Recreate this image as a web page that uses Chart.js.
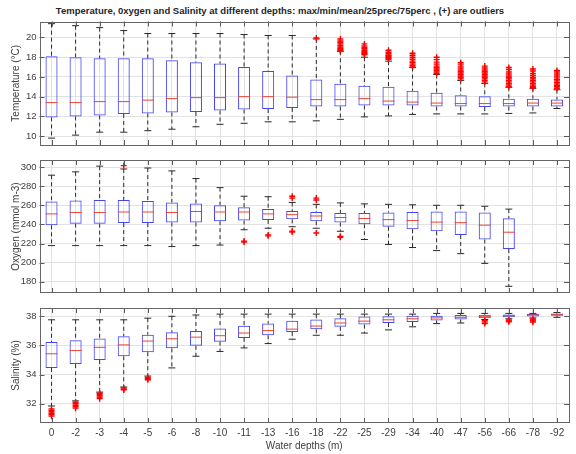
<!DOCTYPE html>
<html>
<head>
<meta charset="utf-8">
<script src="https://cdn.jsdelivr.net/npm/chart.js@4/dist/chart.umd.min.js"></script>
<style>
  body { margin: 0; background: #fff; }
  #wrap { position: relative; width: 576px; height: 454px; background: #fff; font-family: "Liberation Sans", Arial, sans-serif; }
  #wrap canvas { position: absolute; left: 0; }
  #title { position: absolute; left: 0; top: 5px; width: 560px; text-align: center; font-weight: bold; font-size: 9.5px; color: #262626; }
</style>
</head>
<body>
<div id="wrap">
  <div id="title">Temperature, 0xygen and Salinity at different depths: max/min/mean/25prec/75perc , (+) are outliers</div>
  <canvas id="cTemp" width="576" height="152" style="top:0"></canvas>
  <canvas id="cOxy" width="576" height="147" style="top:153px"></canvas>
  <canvas id="cSal" width="576" height="153" style="top:301px"></canvas>
</div>
<script>
// categorias (profundidad en m)
const depths = ['0', '-2', '-3', '-4', '-5', '-6', '-8', '-10', '-11', '-13', '-16', '-18', '-22', '-25', '-29', '-34', '-40', '-47', '-56', '-66', '-78', '-92'];

// temperatura (°C)
const tempMax = [21.4, 21.2, 21.0, 20.7, 20.4, 20.4, 20.4, 20.4, 20.3, 20.2, 20.2, 19.85, 18.6, 18.0, 17.6, 16.95, 16.25, 15.65, 15.35, 14.95, 14.85, 14.7];
const tempQ3 = [18.1, 18.0, 17.9, 17.9, 17.9, 17.7, 17.5, 17.35, 17.0, 16.6, 16.15, 15.75, 15.3, 15.1, 15.0, 14.6, 14.4, 14.15, 14.05, 13.8, 13.8, 13.7];
const tempMed = [13.4, 13.4, 13.5, 13.5, 13.65, 13.8, 13.9, 13.9, 14.0, 14.0, 13.95, 13.7, 13.7, 13.8, 13.55, 13.45, 13.35, 13.3, 13.3, 13.3, 13.35, 13.35];
const tempQ1 = [11.9, 12.0, 12.1, 12.25, 12.3, 12.4, 12.45, 12.6, 12.7, 12.75, 12.85, 13.0, 13.0, 13.1, 13.1, 13.1, 13.0, 13.0, 12.95, 13.0, 13.0, 13.0];
const tempMin = [9.8, 10.1, 10.4, 10.4, 10.55, 10.7, 10.95, 11.2, 11.3, 11.45, 11.45, 11.55, 11.7, 11.95, 12.05, 12.2, 12.25, 12.25, 12.25, 12.3, 12.35, 12.8];
const tempOut = [[], [], [], [], [], [], [], [], [], [], [], [19.95],
  [18.65, 18.75, 18.85, 18.95, 19.05, 19.2, 19.35, 19.5, 19.65, 19.85],
  [18.25, 18.35, 18.45, 18.55, 18.7, 18.85, 19.0, 19.15, 19.35],
  [17.8, 17.9, 18.0, 18.1, 18.2, 18.35, 18.5, 18.7],
  [17.0, 17.15, 17.3, 17.45, 17.6, 17.8, 18.0, 18.2, 18.4],
  [16.35, 16.5, 16.65, 16.8, 16.95, 17.1, 17.3, 17.5, 17.75, 18.0],
  [15.8, 15.95, 16.1, 16.25, 16.4, 16.55, 16.7, 16.9, 17.1, 17.3, 17.45],
  [15.5, 15.65, 15.8, 15.95, 16.1, 16.25, 16.4, 16.55, 16.7, 16.9, 17.1],
  [15.05, 15.2, 15.35, 15.5, 15.65, 15.8, 15.95, 16.1, 16.3, 16.5, 16.75, 16.95],
  [14.9, 15.05, 15.2, 15.35, 15.5, 15.65, 15.8, 15.95, 16.15, 16.35, 16.6, 16.8],
  [14.85, 15.0, 15.15, 15.3, 15.45, 15.6, 15.75, 15.9, 16.1, 16.3, 16.5, 16.65]];
const tempTicks = [10, 12, 14, 16, 18, 20];

// oxigeno (mmol m-3)
const oxyMax = [291.5, 295, 301, 298, 299, 296, 288, 278.5, 269.5, 269, 263, 261, 262.5, 261.5, 261, 260.5, 260, 260, 259, 256, null, null];
const oxyQ3 = [264, 265, 265.5, 265.5, 264.5, 263, 262, 260, 258, 256, 254, 253, 252, 252, 252.5, 253, 253.5, 253.5, 252.5, 246.5, null, null];
const oxyMed = [251, 252.5, 252.5, 253, 253, 252.5, 253.5, 253, 253, 251, 250.2, 248.8, 247.2, 246.2, 245, 244, 242.4, 241.8, 239.2, 231.8, null, null];
const oxyQ1 = [239, 240.8, 240.8, 241.4, 241.4, 242, 242, 243.4, 244, 244.6, 245.3, 243.4, 242, 240.2, 237.6, 235, 232.8, 229, 224.2, 214.2, null, null];
const oxyMin = [217.8, 217.8, 217.8, 217.8, 217.8, 216.8, 217.8, 218.4, 234.4, 236, 237.6, 236, 232.8, 224.2, 219, 215.8, 212.6, 209.4, 199.2, 175.2, null, null];
const oxyOut = [[], [], [], [301.5], [], [], [], [], [221.5, 222.5], [228, 229],
  [232, 233, 267.5, 269.5], [231, 265.5, 267.5], [226.5, 227.5], [], [], [], [], [], [], [], [], []];
const oxyTicks = [180, 200, 220, 240, 260, 280, 300];

// salinidad (%)
const salMax = [37.76, 37.76, 37.76, 37.76, 37.87, 38.0, 38.09, 38.15, 38.15, 38.15, 38.15, 38.15, 38.15, 38.15, 38.15, 38.15, 38.2, 38.2, 38.2, 38.2, 38.2, 38.26];
const salQ3 = [36.24, 36.35, 36.48, 36.63, 36.74, 36.9, 37.0, 37.17, 37.35, 37.5, 37.7, 37.78, 37.87, 37.98, 38.0, 38.04, 38.04, 38.09, 38.11, 38.13, 38.15, 38.2];
const salMed = [35.43, 35.65, 35.87, 36.04, 36.3, 36.46, 36.57, 36.67, 36.85, 37.02, 37.12, 37.33, 37.54, 37.67, 37.76, 37.83, 37.89, 37.93, 38.0, 38.04, 38.09, 38.11];
const salQ1 = [34.46, 34.72, 35.0, 35.26, 35.54, 35.8, 35.98, 36.26, 36.52, 36.7, 36.93, 37.11, 37.28, 37.43, 37.54, 37.61, 37.72, 37.78, 37.87, 37.93, 37.98, 38.04];
const salMin = [31.85, 32.2, 32.8, 33.15, 33.9, 34.46, 35.26, 35.59, 35.83, 36.13, 36.43, 36.7, 36.7, 36.85, 37.07, 37.28, 37.5, 37.54, 37.78, 37.83, 37.89, 37.93];
const salOut = [[31.15, 31.25, 31.35, 31.45, 31.55, 31.65], [31.7, 31.8, 31.9, 32.0, 32.1], [32.35, 32.45, 32.55, 32.65, 32.72],
  [32.95, 33.0, 33.08], [33.65, 33.72, 33.8], [], [], [], [], [], [], [], [], [], [], [], [], [],
  [37.5, 37.6, 37.7], [37.62, 37.68, 37.75], [37.6, 37.68, 37.75, 37.82], []];
const salTicks = [32, 34, 36, 38];

const FONT = '"Liberation Sans", Arial, sans-serif';
const TXT = '#404040';
const GRID = '#e2e2e2';
const BLUE = '#4646f0';

// marco + ticks hacia adentro (estilo matlab)
const framePlugin = {
    id: 'frame',
    afterDraw(c) {
        const { ctx, chartArea: a, scales } = c;
        ctx.save();
        ctx.strokeStyle = '#5a5a5a';
        ctx.lineWidth = 1;
        ctx.beginPath();
        scales.x.ticks.forEach((t, i) => {
            const x = Math.round(scales.x.getPixelForTick(i)) + 0.5;
            ctx.moveTo(x, a.top); ctx.lineTo(x, a.top + 5);
            ctx.moveTo(x, a.bottom); ctx.lineTo(x, a.bottom - 5);
        });
        scales.y.ticks.forEach((t, i) => {
            const y = Math.round(scales.y.getPixelForTick(i)) + 0.5;
            ctx.moveTo(a.left, y); ctx.lineTo(a.left + 5, y);
            ctx.moveTo(a.right, y); ctx.lineTo(a.right - 5, y);
        });
        ctx.stroke();
        ctx.strokeStyle = '#666';
        ctx.strokeRect(Math.round(a.left) + 0.5, Math.round(a.top) + 0.5, Math.round(a.width) - 1, Math.round(a.height) - 1);
        ctx.restore();
    },
};

function whisker(hi, lo) {
    return depths.flatMap((d, i) => (hi[i] == null ? [] : [{ x: d, y: hi[i] }, { x: d, y: lo[i] }, { x: d, y: null }]));
}

function boxPanel(id, o) {
    const outPts = o.out.flatMap((vals, i) => vals.map((v) => ({ x: depths[i], y: v })));
    const dash = { type: 'line', borderColor: '#2a2a2a', borderWidth: 1, borderDash: [4, 3], pointRadius: 0, spanGaps: false, order: 3 };
    const cap = { type: 'line', showLine: false, pointStyle: 'line', pointRadius: 3.5, borderColor: '#2a2a2a', borderWidth: 1, order: 2 };
    return new Chart(document.getElementById(id), {
        type: 'bar',
        data: {
            labels: depths,
            datasets: [
                {
                    type: 'bar',
                    data: o.q1.map((v, i) => (v == null ? null : [v, o.q3[i]])),
                    backgroundColor: 'rgba(0,0,0,0)',
                    borderColor: BLUE,
                    borderWidth: 1,
                    borderSkipped: false,
                    barPercentage: 0.5,
                    categoryPercentage: 1,
                    order: 1,
                },
                { ...dash, data: whisker(o.max, o.q3) },
                { ...dash, data: whisker(o.q1, o.min) },
                { ...cap, data: o.max },
                { ...cap, data: o.min },
                { type: 'line', showLine: false, data: o.med, pointStyle: 'line', pointRadius: 6, borderColor: '#ee4433', borderWidth: 1, order: 0 },
                { type: 'line', showLine: false, data: outPts, pointStyle: 'cross', pointRadius: 3, borderColor: '#ff0000', borderWidth: 1.4, order: 0 },
            ],
        },
        options: {
            responsive: false,
            animation: false,
            devicePixelRatio: 1,
            layout: { padding: { top: o.padTop, bottom: o.padBottom, left: 0, right: 3 } },
            plugins: { legend: { display: false }, tooltip: { enabled: false } },
            scales: {
                x: {
                    offset: true,
                    grid: { offset: false, color: GRID, drawTicks: false },
                    border: { display: false },
                    ticks: { display: o.showX, color: TXT, font: { size: 10, family: FONT }, padding: 4, maxRotation: 0, autoSkip: false },
                    title: { display: o.showX, text: 'Water depths (m)', color: TXT, font: { size: 10, family: FONT }, padding: { top: 0, bottom: 2 } },
                    afterFit: (s) => {
                        s.height = o.showX ? 31 : 0;
                        s.paddingLeft = 0;
                        s.paddingRight = 0;
                    },
                },
                y: {
                    min: o.yMin,
                    max: o.yMax,
                    afterBuildTicks: (s) => { s.ticks = o.ticks.map((v) => ({ value: v })); },
                    grid: { color: GRID, drawTicks: false },
                    border: { display: false },
                    ticks: { color: TXT, font: { size: 9.5, family: FONT }, padding: 3 },
                    title: { display: true, text: o.title, color: TXT, font: { size: 10, family: FONT }, padding: { top: 10, bottom: 0 } },
                    afterFit: (s) => {
                        s.width = 39.5;
                        s.paddingTop = 0;
                        s.paddingBottom = 0;
                    },
                },
            },
        },
        plugins: [framePlugin],
    });
}

boxPanel('cTemp', { max: tempMax, q3: tempQ3, med: tempMed, q1: tempQ1, min: tempMin, out: tempOut, ticks: tempTicks,
    yMin: 9.1, yMax: 21.62, title: 'Temperature (°C)', padTop: 21.5, padBottom: 1, showX: false });
boxPanel('cOxy', { max: oxyMax, q3: oxyQ3, med: oxyMed, q1: oxyQ1, min: oxyMin, out: oxyOut, ticks: oxyTicks,
    yMin: 168.2, yMax: 307.4, title: 'Oxygen (mmol m-3)', padTop: 1, padBottom: 1, showX: false });
boxPanel('cSal', { max: salMax, q3: salQ3, med: salMed, q1: salQ1, min: salMin, out: salOut, ticks: salTicks,
    yMin: 30.68, yMax: 38.57, title: 'Salinity (%)', padTop: 1, padBottom: 0, showX: true });
</script>
</body>
</html>
